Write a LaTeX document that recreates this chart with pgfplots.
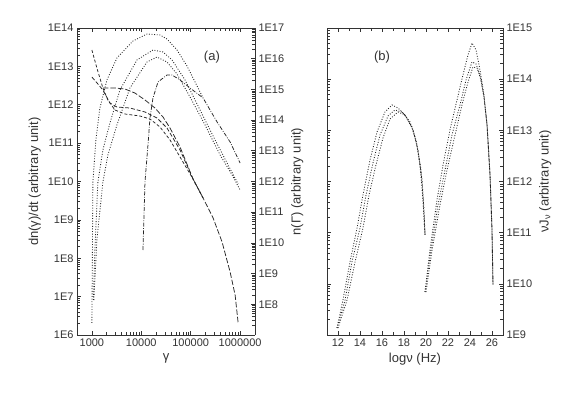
\documentclass[border=0pt]{standalone}
\usepackage{fontspec}
\setmainfont{Liberation Sans}
\usepackage{pgfplots}
\pgfplotsset{compat=1.18}
\begin{document}
\begin{tikzpicture}
\useasboundingbox (0pt,0pt) rectangle (566pt,394pt);
\pgfplotsset{
  every axis/.append style={
    scale only axis, height=307pt,
    tick label style={font=\fontsize{11}{13}\selectfont, text=black!80},
    label style={font=\fontsize{13}{15}\selectfont, text=black!80},
    axis line style={black!80, line width=0.8pt},
    every tick/.append style={black!80, line width=0.6pt},
    /pgf/number format/assume math mode=true,
  },
  dots/.style={black!85, line width=0.85pt, dash pattern=on 0.9pt off 1.7pt},
  dashA/.style={black!85, line width=0.75pt, dash pattern=on 3pt off 2pt},
  dashB/.style={black!85, line width=0.75pt, dash pattern=on 4pt off 2pt},
  dashC/.style={black!85, line width=0.75pt, dash pattern=on 5.5pt off 2pt},
  dashdot/.style={black!85, line width=0.75pt, dash pattern=on 4pt off 1.5pt on 0.8pt off 1.5pt},
}
% ---------- panel (a), left axis carries the curves
\begin{axis}[
  at={(77pt,59pt)}, anchor=south west, width=178pt,
  xmode=log, ymode=log,
  xmin=500, xmax=2e6, ymin=1e6, ymax=1e14,
  axis y line*=left,
  xtick={1000,10000,100000,1000000},
  xticklabels={1000,10000,100000,1000000},
  ytick={1e6,1e7,1e8,1e9,1e10,1e11,1e12,1e13,1e14},
  yticklabels={1E6,1E7,1E8,1E9,1E10,1E11,1E12,1E13,1E14},
  xlabel={γ}, ylabel={dn(γ)/dt (arbitrary unit)},
]
% dotted: n(Gamma)
\addplot[dots] coordinates {(1000,2.06e6) (1023,9.0e7) (1048,9.7e9) (1205,1.21e11)
  (1452,8.22e11) (2014,4.42e12) (3212,1.65e13) (6778,4.58e13) (13030,6.98e13)
  (23900,6.58e13) (33140,5.16e13) (52860,2.67e13) (84270,1.02e13) (177800,1.50e12)};
\addplot[dots] coordinates {(1072,8.17e6) (1150,1.64e8) (1323,9.7e9) (1671,6.62e10)
  (2317,3.34e11) (3696,2.42e12) (8171,1.47e13) (17240,2.67e13) (27490,2.37e13)
  (41850,1.47e13) (76770,4.42e12) (154500,7.30e11) (311400,1.21e11) (571400,2.69e10)
  (912000,8.61e9)};
\addplot[dots] coordinates {(1098,8.17e6) (1262,2.99e8) (1671,9.7e9) (2110,4.91e10)
  (3212,2.97e11) (5894,2.73e12) (13030,1.30e13) (20790,1.75e13) (33140,1.30e13)
  (52860,6.33e12) (96940,1.59e12) (195300,2.97e11) (393400,4.91e10) (688200,1.48e10)
  (1000000,6.01e9)};
% dash-dot
\addplot[dashdot] coordinates {(10810,1.64e8) (11870,9.7e9) (13650,8.93e10)
  (14990,4.52e11) (17240,1.50e12) (21790,3.92e12) (33140,5.96e12) (41850,5.96e12)
  (60810,4.42e12) (96940,2.73e12) (177800,1.50e12) (342000,3.55e11) (627000,1.07e11)
  (1000000,3.03e10)};
% dashed: injection
\addplot[dashA] coordinates {(1000,2.67e13) (1262,9.08e12) (1671,2.73e12) (2110,1.33e12)
  (2925,7.30e11) (4667,5.74e11) (9399,5.09e11) (14990,4.26e11) (23900,2.63e11)
  (38110,1.21e11) (60810,4.35e10) (111500,1.16e10) (177800,3.72e9)};
\addplot[dashB] coordinates {(1000,5.28e12) (1323,3.48e12) (1671,2.42e12) (2317,1.11e12)
  (3212,8.73e11) (5894,8.22e11) (11870,6.47e11) (20790,4.52e11) (33140,2.48e11)
  (60810,6.62e10) (111500,1.16e10) (177800,3.72e9)};
\addplot[dashC] coordinates {(1671,2.73e12) (2925,2.73e12) (4667,2.57e12) (7440,2.02e12)
  (11870,1.33e12) (18930,8.22e11) (27490,4.80e11) (38110,2.48e11) (60810,7.93e10)
  (111500,1.16e10) (177800,3.72e9) (283800,1.12e9) (431600,2.65e8) (627000,4.39e7)
  (792000,1.10e7) (912000,2.06e6)};
\node[font=\fontsize{13}{15}\selectfont, text=black!80] at (rel axis cs:0.758,0.906) {(a)};
\end{axis}
% ---------- panel (a), right axis
\begin{axis}[
  at={(77pt,59pt)}, anchor=south west, width=178pt,
  xmode=log, ymode=log,
  xmin=500, xmax=2e6, ymin=1e7, ymax=1e17,
  axis y line*=right, axis x line=none,
  ytick={1e7,1e8,1e9,1e10,1e11,1e12,1e13,1e14,1e15,1e16,1e17},
  yticklabels={,1E8,1E9,1E10,1E11,1E12,1E13,1E14,1E15,1E16,1E17},
  ylabel={n(Γ) (arbitrary unit)},
]
\end{axis}
% ---------- panel (b)
\begin{axis}[
  at={(327pt,59pt)}, anchor=south west, width=176pt,
  ymode=log,
  xmin=11, xmax=27, ymin=1e9, ymax=1e15,
  xtick={12,14,16,18,20,22,24,26}, minor x tick num=1,
  ytick={1e9,1e10,1e11,1e12,1e13,1e14,1e15},
  yticklabels={1E9,1E10,1E11,1E12,1E13,1E14,1E15},
  yticklabel pos=right,
  xlabel={logν (Hz)}, ylabel={νJ\textsubscript{ν} (arbitrary unit)},
]
\addplot[dots] coordinates {(11.91,1.37e9) (12.45,4.83e9) (13.09,2.67e10) (13.73,1.23e11)
  (14.27,5.45e11) (14.91,2.63e12) (15.55,9.29e12) (16.27,2.28e13) (16.91,3.13e13)
  (17.45,2.73e13) (18.09,2.00e13) (18.82,1.02e13) (19.27,4.13e12) (19.64,1.07e12)
  (19.82,2.77e11) (19.91,9.02e10)};
\addplot[dots] coordinates {(19.91,6.93e9) (20.36,4.58e10) (21.00,4.36e11) (21.55,2.10e12)
  (22.18,1.02e13) (22.82,3.92e13) (23.36,1.21e14) (23.82,2.97e14) (24.18,5.09e14)
  (24.55,3.72e14) (24.91,1.51e14) (25.27,4.91e13) (25.55,1.27e13) (25.82,1.34e12)
  (26.00,1.13e11) (26.09,9.49e9)};
\addplot[dots] coordinates {(11.91,1.37e9) (12.64,4.83e9) (13.27,2.67e10) (14.00,1.23e11)
  (14.55,5.45e11) (15.18,2.30e12) (15.82,8.11e12) (16.55,1.91e13) (17.18,2.50e13)
  (17.82,2.28e13) (18.55,1.46e13) (19.09,6.47e12) (19.45,2.10e12) (19.73,4.36e11)
  (19.91,9.02e10)};
\addplot[dots] coordinates {(19.91,6.93e9) (20.45,4.58e10) (21.09,3.48e11) (21.73,1.68e12)
  (22.36,8.11e12) (23.09,3.13e13) (23.64,9.63e13) (24.18,2.17e14) (24.55,1.98e14)
  (24.91,1.21e14) (25.27,4.49e13) (25.55,1.27e13) (25.82,1.34e12) (26.00,1.13e11)
  (26.09,9.49e9)};
\addplot[dots] coordinates {(12.00,1.37e9) (12.82,4.83e9) (13.55,2.67e10) (14.27,1.23e11)
  (14.82,5.45e11) (15.45,2.10e12) (16.09,7.08e12) (16.73,1.67e13) (17.45,2.28e13)
  (18.09,2.00e13) (18.73,1.16e13) (19.18,5.17e12) (19.55,1.68e12) (19.73,4.36e11)
  (19.91,9.02e10)};
\addplot[dots] coordinates {(20.00,6.93e9) (20.55,4.58e10) (21.27,3.48e11) (21.91,1.68e12)
  (22.64,8.11e12) (23.27,3.13e13) (23.82,8.81e13) (24.27,1.73e14) (24.64,1.65e14)
  (25.00,9.63e13) (25.27,4.49e13) (25.55,1.27e13) (25.82,1.34e12) (26.00,1.13e11)
  (26.09,9.49e9)};
\node[font=\fontsize{13}{15}\selectfont, text=black!80] at (rel axis cs:0.3125,0.906) {(b)};
\end{axis}
\end{tikzpicture}
\end{document}
